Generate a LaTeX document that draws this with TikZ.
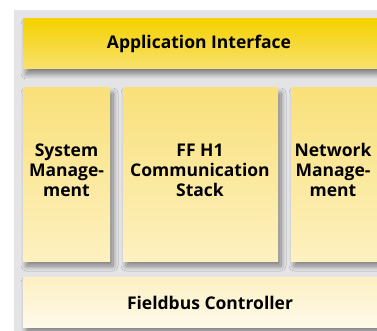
\documentclass[tikz,border=0pt]{standalone}
\usepackage{fontspec}
\setmainfont{Open Sans}
\usetikzlibrary{shadows.blur}
\definecolor{bggray}{HTML}{E4E4E6}
\definecolor{appTop}{HTML}{F5D200}
\definecolor{appBot}{HTML}{F8E16E}
\definecolor{midTop}{HTML}{F9E07A}
\definecolor{midBot}{HTML}{FDF1C0}
\definecolor{fbTop}{HTML}{FDF0C2}
\definecolor{fbBot}{HTML}{FEF9EA}
\tikzset{
  layer/.style={inner sep=0pt, outer sep=0pt, anchor=north west,
    blur shadow={shadow xshift=3pt, shadow yshift=-5pt, shadow blur steps=8, shadow blur radius=5pt, shadow opacity=45}},
  lbl/.style={font=\bfseries\fontsize{17.5}{20}\selectfont, align=center, text=black}
}
\begin{document}
\begin{tikzpicture}[x=1pt,y=-1pt]
\useasboundingbox (0,0) rectangle (377,331);
\clip (0,0) rectangle (377,331);
\fill[white] (0,0) rectangle (377,331);
\fill[bggray] (14,10) rectangle (390,340);
\node[layer, top color=appTop, bottom color=appBot, minimum width=370pt, minimum height=50pt] (app) at (23,19) {};
\node[layer, top color=midTop, bottom color=midBot, minimum width=87pt, minimum height=173pt] (sys) at (23,88) {};
\node[layer, top color=midTop, bottom color=midBot, minimum width=155pt, minimum height=173pt] (ff) at (123,88) {};
\node[layer, top color=midTop, bottom color=midBot, minimum width=100pt, minimum height=173pt] (net) at (291,88) {};
\node[layer, top color=fbTop, bottom color=fbBot, minimum width=390pt, minimum height=50pt] (fb) at (23,277) {};
\node[lbl] (appt) at (199,44) {Application Interface};
\node[lbl] (syst) at (66.5,170) {System\\Manage-\\ment};
\node[lbl] (fft) at (200,170) {FF H1\\Communication\\Stack};
\node[lbl] (nett) at (333,170) {Network\\Manage-\\ment};
\node[lbl] (fbt) at (210,303) {Fieldbus Controller};
\end{tikzpicture}
\end{document}
